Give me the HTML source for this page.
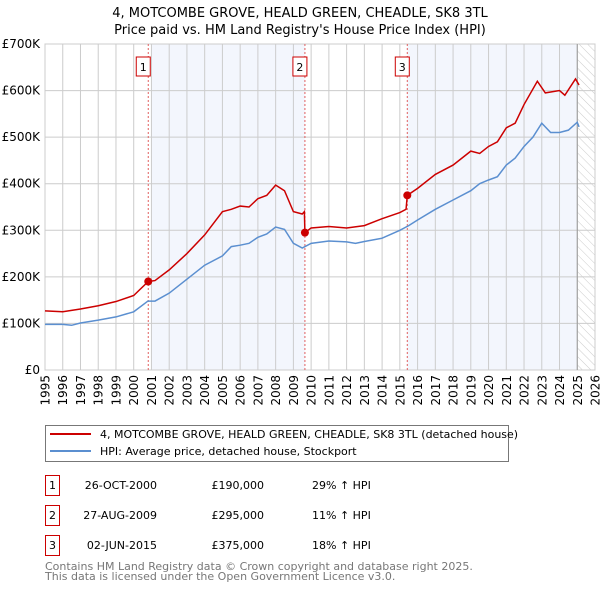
<!DOCTYPE html>
<html><head><meta charset="utf-8"><style>
body{margin:0;background:#fff;font-family:"DejaVu Sans","Liberation Sans",sans-serif;}
svg text{font-family:"DejaVu Sans","Liberation Sans",sans-serif;}
</style></head><body>
<svg id="chart" width="600" height="590" viewBox="0 0 600 590" xmlns="http://www.w3.org/2000/svg">
<defs><pattern id="hatch" width="6" height="6" patternUnits="userSpaceOnUse" patternTransform="rotate(-45)"><line x1="0" y1="0" x2="0" y2="6" stroke="#ccc" stroke-width="1"/></pattern></defs>
<text x="300" y="17" text-anchor="middle" font-size="13">4, MOTCOMBE GROVE, HEALD GREEN, CHEADLE, SK8 3TL</text>
<text x="300" y="34" text-anchor="middle" font-size="13">Price paid vs. HM Land Registry's House Price Index (HPI)</text>
<g id="plot"></g>
<g>
<rect x="45.5" y="425.5" width="463" height="36" fill="#fff" stroke="#777"/>
<line x1="50" y1="434" x2="91" y2="434" stroke="#cc0000" stroke-width="2"/>
<text x="100" y="438" font-size="11">4, MOTCOMBE GROVE, HEALD GREEN, CHEADLE, SK8 3TL (detached house)</text>
<line x1="50" y1="451" x2="91" y2="451" stroke="#5b8fd0" stroke-width="2"/>
<text x="100" y="455" font-size="11">HPI: Average price, detached house, Stockport</text>
</g>
<g id="table" font-size="11"></g>
<text x="45" y="570" font-size="11" fill="#777">Contains HM Land Registry data © Crown copyright and database right 2025.</text>
<text x="45" y="580" font-size="11" fill="#777">This data is licensed under the Open Government Licence v3.0.</text>
</svg>
<script>
const yTicks=[0,100000,200000,300000,400000,500000,600000,700000];
const yTickLabels=["£0","£100K","£200K","£300K","£400K","£500K","£600K","£700K"];
const years=[1995,1996,1997,1998,1999,2000,2001,2002,2003,2004,2005,2006,2007,2008,2009,2010,2011,2012,2013,2014,2015,2016,2017,2018,2019,2020,2021,2022,2023,2024,2025,2026];
const hpiT=[1995,1996,1996.5,1997,1998,1999,2000,2000.8,2001.2,2002,2003,2004,2005,2005.5,2006,2006.5,2007,2007.5,2008,2008.5,2009,2009.5,2010,2011,2012,2012.5,2013,2014,2015,2015.5,2016,2017,2018,2019,2019.5,2020,2020.5,2021,2021.5,2022,2022.5,2023,2023.5,2024,2024.5,2025,2025.1];
const hpiV=[98000,98000,96000,101000,107000,114000,125000,148000,148000,165000,195000,225000,245000,265000,268000,272000,285000,292000,307000,302000,272000,262000,272000,277000,275000,272000,276000,283000,300000,310000,322000,345000,365000,385000,400000,408000,415000,440000,455000,480000,500000,530000,510000,510000,515000,532000,522000];
const priceT=[1995,1996,1997,1998,1999,2000,2000.82,2001.2,2002,2003,2004,2005,2005.5,2006,2006.5,2007,2007.5,2008,2008.5,2009,2009.5,2009.62,2009.65,2010,2011,2012,2013,2014,2015,2015.35,2015.42,2016,2017,2018,2019,2019.5,2020,2020.5,2021,2021.5,2022,2022.75,2023.2,2024,2024.3,2024.9,2025.1];
const priceV=[127000,125000,131000,138000,147000,160000,190000,192000,215000,250000,290000,340000,345000,352000,350000,368000,375000,397000,385000,340000,335000,340000,295000,305000,308000,305000,310000,325000,338000,345000,375000,390000,420000,440000,470000,465000,480000,490000,520000,530000,570000,620000,595000,600000,590000,625000,612000];
const saleT=[2000.82,2009.65,2015.42];
const saleV=[190000,295000,375000];
const saleDates=["26-OCT-2000","27-AUG-2009","02-JUN-2015"];
const salePrices=["£190,000","£295,000","£375,000"];
const saleHpi=["29% ↑ HPI","11% ↑ HPI","18% ↑ HPI"];

const L=45,R=595,T=44,B=370,NS="http://www.w3.org/2000/svg";
const x=t=>L+(t-1995)/(2026-1995)*(R-L);
const y=v=>B-v/700000*(B-T);
const plot=document.getElementById('plot');
function mk(tag,attrs,parent){const e=document.createElementNS(NS,tag);for(const k in attrs)e.setAttribute(k,attrs[k]);(parent||plot).appendChild(e);return e;}
let e;
e=mk('rect',{x:L,y:T,width:R-L,height:B-T,fill:'#fff',stroke:'#ccc'});


e=mk('rect',{x:x(2001),y:T,width:x(saleT[1])-x(2001),height:B-T,fill:'#f3f6fd'});


e=mk('rect',{x:x(saleT[2]),y:T,width:x(2025)-x(saleT[2]),height:B-T,fill:'#f3f6fd'});


e=mk('rect',{x:x(2025),y:T,width:R-x(2025),height:B-T,fill:'url(#hatch)'});


years.forEach(yr=>{
 e=mk('line',{x1:x(yr),x2:x(yr),y1:T,y2:B,stroke:'#ccc'});
 
 
 e=mk('text',{x:0,y:0,transform:`translate(${x(yr)+4.5},${B+5}) rotate(-90)`,'text-anchor':'end','font-size':12});
 e.textContent=yr;
 
 
});
yTicks.forEach((v,i)=>{
 e=mk('line',{x1:L,x2:R,y1:y(v),y2:y(v),stroke:'#ccc'});
 
 
 e=mk('text',{x:L-5,y:y(v)+4,'text-anchor':'end','font-size':12});
 e.textContent=yTickLabels[i];
 
 
});
e=mk('line',{x1:x(2025),x2:x(2025),y1:T,y2:B,stroke:'#999'});


saleT.forEach((t,i)=>{
 e=mk('line',{x1:x(t),x2:x(t),y1:T,y2:B,stroke:'#e06060','stroke-dasharray':'2,2'});
 
 
 e=mk('rect',{x:x(t)-12,y:57,width:14,height:19,fill:'#fff',stroke:'#cc0000'});
 
 
 e=mk('text',{x:x(t)-5,y:71,'text-anchor':'middle','font-size':11});
 e.textContent=String(i+1);
 
 
});
e=mk('polyline',{points:hpiT.map((t,i)=>x(t)+','+y(hpiV[i])).join(' '),fill:'none',stroke:'#5b8fd0','stroke-width':1.5});


e=mk('polyline',{points:priceT.map((t,i)=>x(t)+','+y(priceV[i])).join(' '),fill:'none',stroke:'#cc0000','stroke-width':1.5});


saleT.forEach((t,i)=>{
 e=mk('circle',{cx:x(t),cy:y(saleV[i]),r:4,fill:'#cc0000'});
 
 
});
const tbl=document.getElementById('table');
saleT.forEach((t,i)=>{
 const yy=475+i*30;
 e=mk('rect',{x:45.5,y:yy+0.5,width:14,height:20,fill:'#fff',stroke:'#cc0000'},tbl);
 
 
 e=mk('text',{x:52.5,y:yy+14,'text-anchor':'middle'},tbl);e.textContent=String(i+1);
 
 
 e=mk('text',{x:157,y:yy+14,'text-anchor':'end'},tbl);e.textContent=saleDates[i];
 
 
 e=mk('text',{x:264,y:yy+14,'text-anchor':'end'},tbl);e.textContent=salePrices[i];
 
 
 e=mk('text',{x:312,y:yy+14},tbl);e.textContent=saleHpi[i];
 
 
});
</script>
</body></html>
